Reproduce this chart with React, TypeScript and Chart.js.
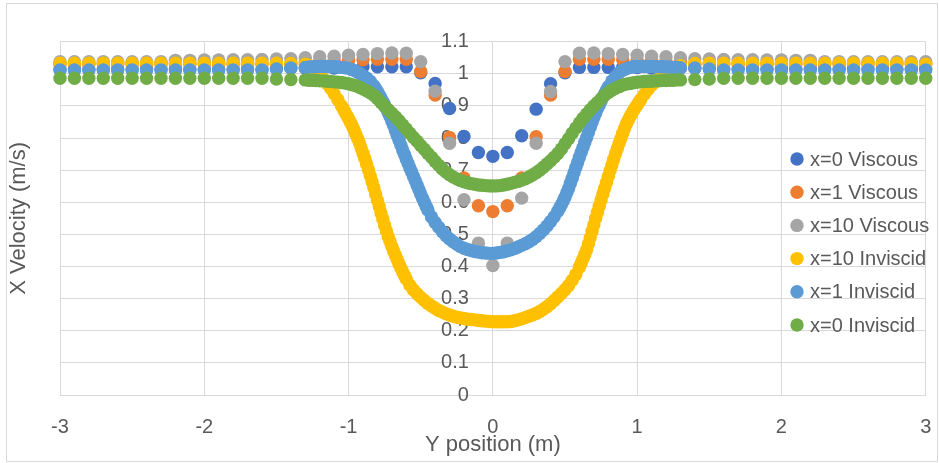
import React, { useEffect, useRef } from "react";
import { Chart, registerables } from "chart.js";

Chart.register(...registerables);

// ---------- data ----------
const seriesNames = [
  "x=0 Viscous",
  "x=1 Viscous",
  "x=10 Viscous",
  "x=10 Inviscid",
  "x=1 Inviscid",
  "x=0 Inviscid",
];
const seriesColors = ["#4472C4", "#ED7D31", "#A5A5A5", "#FFC000", "#5B9BD5", "#70AD47"];

const xTicks = [-3, -2, -1, 0, 1, 2, 3];
const yTicks = [0, 0.1, 0.2, 0.3, 0.4, 0.5, 0.6, 0.7, 0.8, 0.9, 1, 1.1];

const viscousPos = [
  -3.0, -2.9, -2.8, -2.7, -2.6, -2.5, -2.4, -2.3, -2.2, -2.1,
  -2.0, -1.9, -1.8, -1.7, -1.6, -1.5, -1.4, -1.3, -1.2, -1.1,
  -1.0, -0.9, -0.8, -0.7, -0.6, -0.5, -0.4, -0.3, -0.2, -0.1,
  0.0,
  0.1, 0.2, 0.3, 0.4, 0.5, 0.6, 0.7, 0.8, 0.9, 1.0,
  1.1, 1.2, 1.3, 1.4, 1.5, 1.6, 1.7, 1.8, 1.9, 2.0,
  2.1, 2.2, 2.3, 2.4, 2.5, 2.6, 2.7, 2.8, 2.9, 3.0,
];

const viscousX0 = [
  1.015, 1.015, 1.015, 1.015, 1.015, 1.015, 1.015, 1.015, 1.015, 1.015,
  1.015, 1.015, 1.015, 1.015, 1.015, 1.018, 1.018, 1.018, 1.018, 1.018,
  1.022, 1.022, 1.022, 1.022, 1.022, 1.003, 0.970, 0.892, 0.805, 0.755,
  0.743,
  0.755, 0.807, 0.890, 0.969, 1.003, 1.020, 1.020, 1.020, 1.020, 1.020,
  1.018, 1.018, 1.018, 1.018, 1.018, 1.016, 1.016, 1.016, 1.016, 1.016,
  1.016, 1.016, 1.016, 1.016, 1.016, 1.016, 1.016, 1.016, 1.016, 1.016,
];

const viscousX1 = [
  1.030, 1.030, 1.030, 1.030, 1.030, 1.030, 1.030, 1.030, 1.030, 1.030,
  1.030, 1.030, 1.030, 1.030, 1.030, 1.030, 1.030, 1.036, 1.040, 1.043,
  1.043, 1.044, 1.045, 1.045, 1.045, 1.007, 0.934, 0.802, 0.676, 0.589,
  0.571,
  0.589, 0.676, 0.804, 0.934, 1.007, 1.045, 1.045, 1.045, 1.044, 1.043,
  1.043, 1.040, 1.036, 1.030, 1.030, 1.030, 1.030, 1.030, 1.030, 1.030,
  1.030, 1.030, 1.030, 1.030, 1.030, 1.030, 1.030, 1.030, 1.030, 1.030,
];

const viscousX10 = [
  1.038, 1.038, 1.038, 1.038, 1.038, 1.038, 1.038, 1.038, 1.042, 1.042,
  1.043, 1.043, 1.044, 1.044, 1.045, 1.046, 1.047, 1.050, 1.053, 1.055,
  1.058, 1.060, 1.063, 1.065, 1.064, 1.038, 0.946, 0.784, 0.608, 0.473,
  0.403,
  0.473, 0.613, 0.784, 0.945, 1.038, 1.064, 1.065, 1.063, 1.060, 1.058,
  1.055, 1.053, 1.050, 1.047, 1.046, 1.045, 1.044, 1.044, 1.043, 1.043,
  1.042, 1.042, 1.038, 1.038, 1.038, 1.038, 1.038, 1.038, 1.038, 1.038,
];

const inviscidPos = [
  -3.0, -2.9, -2.8, -2.7, -2.6, -2.5, -2.4, -2.3, -2.2, -2.1,
  -2.0, -1.9, -1.8, -1.7, -1.6, -1.5, -1.4,
  -1.3, -1.275, -1.25, -1.225, -1.2, -1.175, -1.15, -1.125, -1.1, -1.075,
  -1.05, -1.025, -1.0, -0.975, -0.95, -0.925, -0.9, -0.875, -0.85, -0.825,
  -0.8, -0.775, -0.75, -0.725, -0.7, -0.675, -0.65, -0.625, -0.6, -0.575,
  -0.55, -0.525, -0.5, -0.475, -0.45, -0.425, -0.4, -0.375, -0.35, -0.325,
  -0.3, -0.275, -0.25, -0.225, -0.2, -0.175, -0.15, -0.125, -0.1, -0.075,
  -0.05, -0.025, 0.0,
  0.025, 0.05, 0.075, 0.1, 0.125, 0.15, 0.175, 0.2, 0.225, 0.25,
  0.275, 0.3, 0.325, 0.35, 0.375, 0.4, 0.425, 0.45, 0.475, 0.5,
  0.525, 0.55, 0.575, 0.6, 0.625, 0.65, 0.675, 0.7, 0.725, 0.75,
  0.775, 0.8, 0.825, 0.85, 0.875, 0.9, 0.925, 0.95, 0.975, 1.0,
  1.025, 1.05, 1.075, 1.1, 1.125, 1.15, 1.175, 1.2, 1.225, 1.25,
  1.275, 1.3,
  1.4, 1.5, 1.6, 1.7, 1.8, 1.9, 2.0, 2.1, 2.2, 2.3,
  2.4, 2.5, 2.6, 2.7, 2.8, 2.9, 3.0,
];

const inviscidX10 = [
  1.033, 1.033, 1.033, 1.033, 1.033, 1.033, 1.033, 1.033, 1.033, 1.033,
  1.033, 1.033, 1.033, 1.033, 1.033, 1.033, 1.032,
  1.030, 1.026, 1.020, 1.010, 0.998, 0.985, 0.970, 0.955, 0.938, 0.920,
  0.901, 0.881, 0.860, 0.838, 0.813, 0.785, 0.753, 0.719, 0.683, 0.645,
  0.606, 0.567, 0.528, 0.493, 0.462, 0.434, 0.407, 0.383, 0.361, 0.342,
  0.327, 0.315, 0.304, 0.294, 0.285, 0.277, 0.270, 0.263, 0.258, 0.253,
  0.249, 0.245, 0.242, 0.240, 0.238, 0.236, 0.235, 0.234, 0.232, 0.231,
  0.230, 0.229, 0.228,
  0.228, 0.228, 0.228, 0.228, 0.229, 0.231, 0.234, 0.237, 0.241, 0.245,
  0.249, 0.254, 0.260, 0.267, 0.275, 0.284, 0.294, 0.305, 0.316, 0.328,
  0.341, 0.357, 0.375, 0.398, 0.424, 0.452, 0.490, 0.530, 0.569, 0.607,
  0.644, 0.680, 0.716, 0.751, 0.783, 0.815, 0.844, 0.866, 0.886, 0.903,
  0.920, 0.936, 0.951, 0.964, 0.975, 0.984, 0.992, 1.000, 1.007, 1.014,
  1.020, 1.025,
  1.032, 1.033, 1.033, 1.033, 1.033, 1.033, 1.033, 1.033, 1.033, 1.033,
  1.033, 1.033, 1.033, 1.033, 1.033, 1.032, 1.030,
];

// extra samples read along the steep flanks of the x=10 Inviscid curve
const inviscidX10FlankPos = [
  -1.0375, -1.0125, -0.9875, -0.9625, -0.9375, -0.9125, -0.8875, -0.8625, -0.8375,
  -0.8125, -0.7875, -0.7625, -0.7375, -0.7125, -0.6875, -0.6625, -0.6375, -0.6125,
  0.6125, 0.6375, 0.6625, 0.6875, 0.7125, 0.7375, 0.7625, 0.7875, 0.8125,
  0.8375, 0.8625, 0.8875, 0.9125, 0.9375, 0.9625, 0.9875, 1.0125,
];
const inviscidX10FlankVals = [
  0.891, 0.870, 0.849, 0.826, 0.799, 0.769, 0.736, 0.701, 0.664,
  0.626, 0.587, 0.548, 0.511, 0.478, 0.448, 0.421, 0.395, 0.372,
  0.411, 0.438, 0.471, 0.510, 0.550, 0.588, 0.626, 0.662, 0.698,
  0.734, 0.767, 0.799, 0.830, 0.855, 0.876, 0.895, 0.912,
];

const inviscidX1 = [
  1.012, 1.012, 1.012, 1.012, 1.012, 1.012, 1.012, 1.012, 1.012, 1.012,
  1.012, 1.012, 1.012, 1.012, 1.012, 1.015, 1.018,
  1.020, 1.021, 1.022, 1.022, 1.023, 1.023, 1.023, 1.022, 1.022, 1.021,
  1.020, 1.019, 1.017, 1.013, 1.008, 1.002, 0.995, 0.987, 0.977, 0.963,
  0.945, 0.925, 0.903, 0.879, 0.852, 0.823, 0.793, 0.763, 0.735, 0.707,
  0.680, 0.653, 0.626, 0.600, 0.576, 0.554, 0.537, 0.522, 0.508, 0.496,
  0.486, 0.477, 0.469, 0.462, 0.457, 0.453, 0.450, 0.447, 0.445, 0.443,
  0.442, 0.441, 0.441,
  0.442, 0.444, 0.446, 0.449, 0.452, 0.456, 0.461, 0.466, 0.471, 0.477,
  0.484, 0.493, 0.503, 0.514, 0.526, 0.540, 0.555, 0.572, 0.592, 0.616,
  0.643, 0.675, 0.708, 0.740, 0.771, 0.802, 0.834, 0.864, 0.891, 0.915,
  0.938, 0.960, 0.978, 0.992, 1.003, 1.011, 1.016, 1.020, 1.022, 1.023,
  1.023, 1.023, 1.023, 1.023, 1.022, 1.022, 1.022, 1.021, 1.021, 1.020,
  1.020, 1.019,
  1.018, 1.015, 1.012, 1.012, 1.012, 1.012, 1.012, 1.012, 1.012, 1.012,
  1.012, 1.012, 1.012, 1.012, 1.012, 1.012, 1.012,
];

// extra samples read along the steep flanks of the x=1 Inviscid curve
const inviscidX1FlankPos = [
  -0.8125, -0.7875, -0.7625, -0.7375, -0.7125, -0.6875, -0.6625, -0.6375,
  -0.6125, -0.5875, -0.5625, -0.5375, -0.5125, -0.4875, -0.4625,
  0.4625, 0.4875, 0.5125, 0.5375, 0.5625, 0.5875, 0.6125,
  0.6375, 0.6625, 0.6875, 0.7125, 0.7375, 0.7625, 0.7875,
];
const inviscidX1FlankVals = [
  0.954, 0.935, 0.914, 0.891, 0.866, 0.838, 0.808, 0.778,
  0.749, 0.721, 0.694, 0.667, 0.640, 0.613, 0.588,
  0.582, 0.604, 0.630, 0.659, 0.692, 0.724, 0.756,
  0.787, 0.818, 0.849, 0.878, 0.903, 0.927, 0.949,
];

const inviscidX0 = [
  0.986, 0.986, 0.986, 0.986, 0.986, 0.986, 0.986, 0.986, 0.986, 0.986,
  0.986, 0.986, 0.986, 0.986, 0.986, 0.984, 0.982,
  0.981, 0.980, 0.980, 0.979, 0.978, 0.978, 0.977, 0.976, 0.975, 0.974,
  0.973, 0.971, 0.969, 0.966, 0.963, 0.958, 0.953, 0.947, 0.941, 0.933,
  0.923, 0.911, 0.899, 0.888, 0.877, 0.866, 0.854, 0.841, 0.828, 0.815,
  0.802, 0.790, 0.777, 0.765, 0.752, 0.740, 0.727, 0.715, 0.704, 0.694,
  0.686, 0.679, 0.673, 0.668, 0.664, 0.661, 0.658, 0.656, 0.654, 0.653,
  0.652, 0.651, 0.651,
  0.651, 0.652, 0.654, 0.656, 0.659, 0.662, 0.665, 0.669, 0.673, 0.679,
  0.685, 0.692, 0.700, 0.709, 0.719, 0.729, 0.740, 0.752, 0.766, 0.782,
  0.798, 0.815, 0.831, 0.847, 0.862, 0.875, 0.888, 0.900, 0.911, 0.922,
  0.933, 0.942, 0.949, 0.955, 0.960, 0.965, 0.968, 0.970, 0.972, 0.974,
  0.975, 0.976, 0.977, 0.977, 0.978, 0.978, 0.979, 0.979, 0.980, 0.980,
  0.981, 0.981,
  0.982, 0.984, 0.986, 0.986, 0.986, 0.986, 0.986, 0.986, 0.986, 0.986,
  0.986, 0.986, 0.986, 0.986, 0.986, 0.986, 0.986,
];

// ---------- styling constants ----------
const FONT = '"Liberation Sans", Arial, sans-serif';
const TEXT = "#595959";
const GRID = "#D9D9D9";
const FONT_SIZE = 20;
const TITLE_SIZE = 22;

const zip = (xs: number[], ys: number[]) => xs.map((x, i) => ({ x, y: ys[i] }));

const seriesData = [
  zip(viscousPos, viscousX0),
  zip(viscousPos, viscousX1),
  zip(viscousPos, viscousX10),
  zip(inviscidPos, inviscidX10).concat(zip(inviscidX10FlankPos, inviscidX10FlankVals)),
  zip(inviscidPos, inviscidX1).concat(zip(inviscidX1FlankPos, inviscidX1FlankVals)),
  zip(inviscidPos, inviscidX0),
];

const framePlugin = {
  id: "frame",
  beforeDraw(chart: any) {
    const ctx = chart.ctx;
    ctx.save();
    ctx.fillStyle = "#ffffff";
    ctx.fillRect(0, 0, chart.width, chart.height);
    ctx.strokeStyle = GRID;
    ctx.lineWidth = 1;
    ctx.strokeRect(6.5, 3.5, chart.width - 8, chart.height - 5);
    ctx.restore();
  },
  afterDraw(chart: any) {
    const ctx = chart.ctx;
    const area = chart.chartArea;
    ctx.save();
    ctx.fillStyle = TEXT;
    ctx.font = `${TITLE_SIZE}px ${FONT}`;
    ctx.textAlign = "center";
    ctx.textBaseline = "middle";
    ctx.translate(19, (area.top + area.bottom) / 2);
    ctx.rotate(-Math.PI / 2);
    ctx.fillText("X Velocity (m/s)", 0, 0);
    ctx.restore();

    ctx.save();
    ctx.font = `${FONT_SIZE}px ${FONT}`;
    ctx.textBaseline = "middle";
    ctx.textAlign = "left";
    const ds = chart.data.datasets;
    for (let i = 0; i < ds.length; i++) {
      const cy = 159 + i * 33.2;
      ctx.beginPath();
      ctx.fillStyle = ds[i].backgroundColor;
      ctx.arc(797, cy, 6.7, 0, Math.PI * 2);
      ctx.fill();
      ctx.fillStyle = TEXT;
      ctx.fillText(ds[i].label, 810, cy + 1);
    }
    ctx.restore();
  },
};

export default function App() {
  const ref = useRef<HTMLCanvasElement | null>(null);

  useEffect(() => {
    if (!ref.current) return;
    Chart.defaults.font.family = FONT;
    Chart.defaults.font.size = FONT_SIZE;
    Chart.defaults.color = TEXT;

    const chart = new Chart(ref.current, {
      type: "scatter",
      data: {
        datasets: seriesNames.map((name, i) => ({
          label: name,
          data: seriesData[i],
          backgroundColor: seriesColors[i],
          borderColor: seriesColors[i],
          pointRadius: 6.7,
          pointHoverRadius: 6.7,
          pointBorderWidth: 0,
          showLine: false,
          clip: false as any,
          order: seriesNames.length - i,
        })),
      },
      options: {
        animation: false,
        responsive: false,
        devicePixelRatio: 1,
        layout: { padding: { left: 60, right: 13.3, top: 41.7, bottom: 0 } },
        plugins: {
          legend: { display: false },
          tooltip: { enabled: false },
        },
        scales: {
          x: {
            type: "linear",
            position: "bottom",
            min: xTicks[0],
            max: xTicks[xTicks.length - 1],
            afterBuildTicks: (scale: any) => {
              scale.ticks = xTicks.map((v) => ({ value: v }));
            },
            ticks: { padding: 20, color: TEXT, font: { size: FONT_SIZE, family: FONT } },
            grid: { color: GRID, drawTicks: false, lineWidth: 1 },
            border: { color: GRID, width: 1 },
            title: {
              display: true,
              text: "Y position (m)",
              color: TEXT,
              font: { size: TITLE_SIZE, family: FONT },
              padding: { top: 0, bottom: 5 },
            },
            afterFit: (scale: any) => {
              scale.height = 68;
              scale.paddingLeft = 0;
              scale.paddingRight = 0;
            },
          },
          // horizontal gridlines, drawn beneath the markers
          yGrid: {
            type: "linear",
            position: "left",
            min: yTicks[0],
            max: yTicks[yTicks.length - 1],
            afterBuildTicks: (scale: any) => {
              scale.ticks = yTicks.map((v) => ({ value: v }));
            },
            afterFit: (scale: any) => {
              scale.width = 0;
            },
            ticks: { display: false },
            grid: { color: GRID, drawTicks: false, lineWidth: 1 },
            border: { display: false },
          },
          // value axis crossing at x = 0; its labels sit above the markers
          y: {
            type: "linear",
            position: "center",
            z: 1,
            min: yTicks[0],
            max: yTicks[yTicks.length - 1],
            afterBuildTicks: (scale: any) => {
              scale.ticks = yTicks.map((v) => ({ value: v }));
            },
            afterFit: (scale: any) => {
              scale.width = 0;
            },
            ticks: {
              padding: 24,
              color: TEXT,
              font: { size: FONT_SIZE, family: FONT },
              callback: (v: any) => String(Math.round(Number(v) * 10) / 10),
            },
            grid: { display: false, drawTicks: false },
            border: { display: false },
          },
        },
      } as any,
      plugins: [framePlugin],
    });
    return () => chart.destroy();
  }, []);

  return (
    <div style={{ position: "absolute", left: 0, top: 0, width: 939, height: 463, background: "#fff" }}>
      <canvas ref={ref} width={939} height={463} style={{ display: "block" }} />
    </div>
  );
}
